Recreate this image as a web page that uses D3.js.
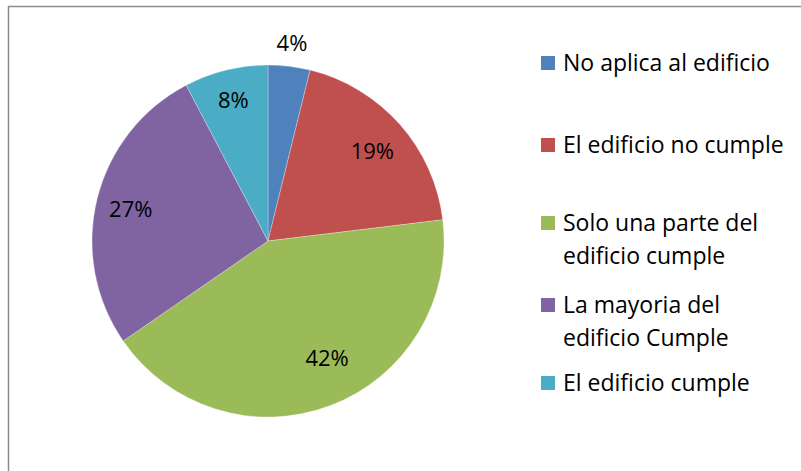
<html>
<head>
    <meta charset="utf-8">
    <title>Cumplimiento del edificio</title>
    <style>
        body { margin: 0; background: #fff; }
    </style>
</head>
<body>
    <script src="https://cdn.jsdelivr.net/npm/d3@7/dist/d3.min.js"></script>
    <script>
        // datos (conteos, suman 26)
        var categories = ["No aplica al edificio", "El edificio no cumple", "Solo una parte del edificio cumple", "La mayoria del edificio Cumple", "El edificio cumple"];
        var legendLines = [["No aplica al edificio"], ["El edificio no cumple"], ["Solo una parte del", "edificio cumple"], ["La mayoria del", "edificio Cumple"], ["El edificio cumple"]];
        var counts = [1, 5, 11, 7, 2];
        var pctLabels = ["4%", "19%", "42%", "27%", "8%"];
        var colors = ["#4F81BD", "#C0504D", "#9BBB59", "#8064A2", "#4BACC6"];

        var width = 801, height = 471;
        var cx = 268, cy = 241, radius = 176;
        var font = "'Open Sans', Lato, sans-serif";

        var svg = d3.select("body")
            .append("svg")
            .attr("width", width)
            .attr("height", height);

        // marco gris
        svg.append("path")
            .attr("d", "M8.5," + height + "V6.5H" + width)
            .attr("fill", "none")
            .attr("stroke", "#8c8c8c")
            .attr("stroke-width", 1.5);

        var pie = d3.pie().sort(null).value(function (d) { return d; });
        var piedata = pie(counts);
        var arc = d3.arc().innerRadius(0).outerRadius(radius);

        var g = svg.append("g")
            .attr("transform", "translate(" + cx + "," + cy + ")");

        g.selectAll("path")
            .data(piedata)
            .enter()
            .append("path")
            .attr("d", arc)
            .attr("fill", function (d, i) { return colors[i]; })
            .attr("stroke", "rgba(255,255,255,0.35)")
            .attr("stroke-width", 0.8);

        // posicion de etiquetas: factor de radio y giro (grados), la primera va fuera
        var labelR = [1.13, 0.78, 0.745, 0.8, 0.825];
        var labelTurn = [0, 1, -6, -1, 0];
        g.selectAll("text")
            .data(piedata)
            .enter()
            .append("text")
            .attr("transform", function (d, i) {
                var r = radius * labelR[i];
                var a = (d.startAngle + d.endAngle) / 2 + labelTurn[i] * Math.PI / 180;
                return "translate(" + (r * Math.sin(a)) + "," + (-r * Math.cos(a)) + ")";
            })
            .attr("text-anchor", "middle")
            .attr("dy", "0.35em")
            .attr("font-family", font)
            .attr("font-size", 22)
            .attr("fill", "#000")
            .text(function (d, i) { return pctLabels[i]; });

        // leyenda
        var legendY = [63, 145, 223, 305, 383];
        var lineH = 33;
        var leg = svg.selectAll(".leg")
            .data(categories)
            .enter()
            .append("g")
            .attr("class", "leg")
            .attr("transform", function (d, i) { return "translate(541," + legendY[i] + ")"; });
        leg.append("rect")
            .attr("x", 0)
            .attr("y", -7)
            .attr("width", 14)
            .attr("height", 14)
            .attr("fill", function (d, i) { return colors[i]; });
        leg.each(function (d, i) {
            var t = d3.select(this).append("text")
                .attr("font-family", font)
                .attr("font-size", 23)
                .attr("fill", "#000");
            legendLines[i].forEach(function (line, j) {
                t.append("tspan")
                    .attr("x", 22)
                    .attr("y", j * lineH)
                    .attr("dy", "0.35em")
                    .text(line);
            });
        });
    </script>
</body>
</html>
